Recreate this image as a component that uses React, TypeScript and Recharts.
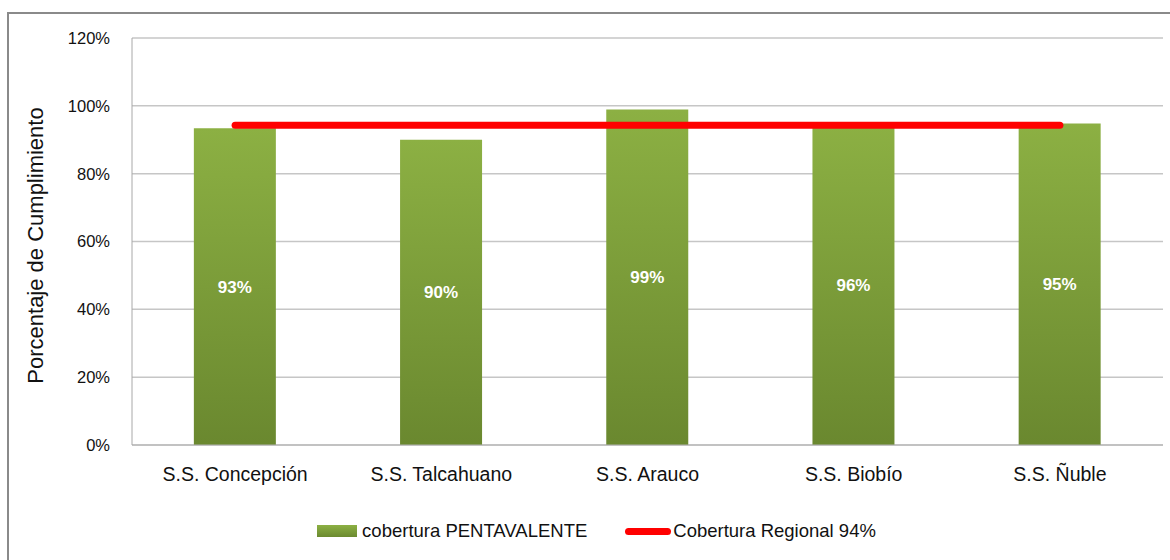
import { ComposedChart, Bar, Line, XAxis, YAxis, CartesianGrid, Legend, LabelList } from "recharts"

// Cobertura pentavalente por servicio de salud
const categories = ["S.S. Concepción", "S.S. Talcahuano", "S.S. Arauco", "S.S. Biobío", "S.S. Ñuble"]
const cobertura = [93.4, 90, 98.9, 94.6, 94.8]
const coberturaLabels = ["93%", "90%", "99%", "96%", "95%"]
const regional = [94.3, 94.3, 94.3, 94.3, 94.3]
const yTicks = [0, 20, 40, 60, 80, 100, 120]

const FONT = "'Liberation Sans', Arial, sans-serif"

const data = categories.map((name, i) => ({
  name,
  cobertura: cobertura[i],
  label: coberturaLabels[i],
  regional: regional[i],
}))

function LegendBox() {
  return (
    <div
      style={{
        height: 30,
        display: "flex",
        alignItems: "center",
        justifyContent: "center",
        fontFamily: FONT,
        fontSize: 18.5,
        color: "#111",
        paddingLeft: 30,
      }}
    >
      <span
        style={{
          width: 40,
          height: 12,
          background: "linear-gradient(#8cb043, #6b8a30)",
          marginRight: 5,
        }}
      />
      <span>cobertura PENTAVALENTE</span>
      <span
        style={{
          width: 46,
          height: 7,
          background: "#ff0000",
          borderRadius: 4,
          marginLeft: 38,
          marginRight: 2,
        }}
      />
      <span>Cobertura Regional 94%</span>
    </div>
  )
}

export default function App() {
  return (
    <div style={{ position: "absolute", left: 0, top: 0, width: 1170, height: 560, background: "#fff", overflow: "hidden" }}>
      <div
        style={{
          position: "absolute",
          left: 7,
          top: 12,
          width: 1180,
          height: 600,
          borderLeft: "2px solid #8a8a8a",
          borderTop: "2px solid #8a8a8a",
        }}
      />
      <div style={{ position: "absolute", left: 0, top: 0 }}>
        <ComposedChart
          width={1170}
          height={560}
          data={data}
          margin={{ top: 38, right: 7, left: 0, bottom: 14 }}
          barCategoryGap="30%"
        >
          <defs>
            <linearGradient id="greenBar" x1="0" y1="0" x2="0" y2="1">
              <stop offset="0%" stopColor="#8cb043" />
              <stop offset="100%" stopColor="#6a882f" />
            </linearGradient>
          </defs>
          <CartesianGrid vertical={false} stroke="#c6c6c6" strokeWidth={1.5} />
          <XAxis
            dataKey="name"
            height={71}
            tickSize={0}
            tickMargin={22}
            stroke="#b0b0b0"
            tick={{ fill: "#111", fontSize: 19.5, fontFamily: FONT }}
          />
          <YAxis
            width={132}
            domain={[0, 120]}
            ticks={yTicks}
            tickFormatter={(v) => `${v}%`}
            tickSize={0}
            tickMargin={22}
            stroke="#a8a8a8"
            tick={{ fill: "#111", fontSize: 16.5, fontFamily: FONT }}
            label={{
              value: "Porcentaje de Cumplimiento",
              angle: -90,
              position: "insideLeft",
              dx: 30,
              dy: 4,
              style: { fill: "#111", fontSize: 22, fontFamily: FONT, textAnchor: "middle" },
            }}
          />
          <Legend verticalAlign="bottom" content={() => <LegendBox />} />
          <Bar dataKey="cobertura" fill="url(#greenBar)" isAnimationActive={false}>
            <LabelList
              dataKey="label"
              position="center"
              fill="#fff"
              style={{ fontSize: 17, fontWeight: "bold", fontFamily: FONT }}
            />
          </Bar>
          <Line
            dataKey="regional"
            stroke="#ff0000"
            strokeWidth={7}
            strokeLinecap="round"
            dot={false}
            activeDot={false}
            isAnimationActive={false}
          />
        </ComposedChart>
      </div>
    </div>
  )
}
